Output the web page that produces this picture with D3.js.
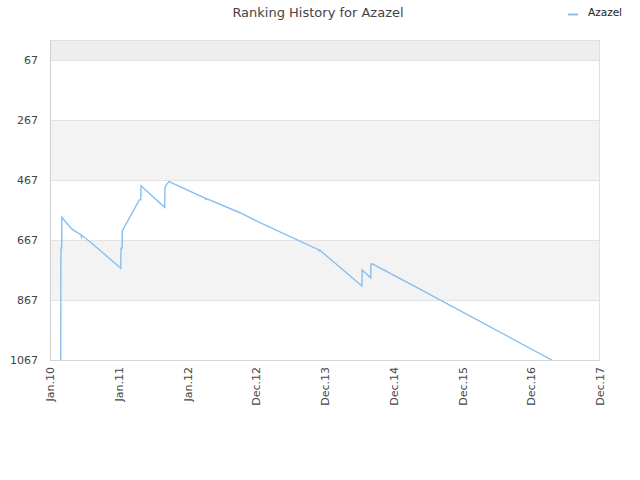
<!DOCTYPE html>
<html><head><meta charset="utf-8">
<script src="https://cdn.jsdelivr.net/npm/d3@7"></script>
<style>body{margin:0;background:#fff}svg{display:block}</style>
</head><body>
<svg id="c" width="640" height="480"></svg>
<script>
const title = "Ranking History for Azazel";
const seriesName = "Azazel";
const dates = ["2010-02-27","2010-02-28","2010-03-04","2010-03-05","2010-04-26","2010-06-15","2010-06-17","2010-06-20","2010-07-31","2011-01-12","2011-01-13","2011-01-19","2011-01-20","2011-04-20","2011-04-28","2011-04-29","2011-09-02","2011-09-03","2011-09-10","2011-09-25","2012-03-28","2012-03-30","2012-04-02","2012-09-13","2012-12-21","2013-10-30","2013-11-01","2013-11-04","2014-06-15","2014-06-16","2014-08-01","2014-08-02","2014-08-11","2015-04-19","2017-03-20"];
const ranks = [1067,694,694,591,630,650,657,652,672,761,694,694,636,533,533,486,558,495,483,472,528,531,529,576,609,700,703,701,820,767,793,747,747,831,1067];
const tickDates = ["2010-01-01","2011-01-01","2012-01-01","2012-12-01","2013-12-01","2014-12-01","2015-12-01","2016-12-01","2017-12-01"];
const tickLabels = ["Jan.10","Jan.11","Jan.12","Dec.12","Dec.13","Dec.14","Dec.15","Dec.16","Dec.17"];
const yTicks = [67,267,467,667,867,1067];
const bands = [[0,67],[267,467],[667,867]];

const parse = d3.timeParse("%Y-%m-%d");
const L = 50, R = 600, T = 40, B = 360;
const svg = d3.select("#c");
const tickD = tickDates.map(parse);
const x = d3.scaleTime().domain(tickD)
  .range(tickD.map((d,i)=> L + i*(R-L)/(tickD.length-1)));
const y = d3.scaleLinear().domain([0,1067]).range([T,B]);

svg.selectAll("rect.band").data(bands).join("rect")
  .attr("x",L).attr("width",R-L)
  .attr("y",d=>y(d[0])).attr("height",d=>y(d[1])-y(d[0]))
  .attr("fill",(d,i)=> i===0 ? "#eeeeee" : "#f3f3f3");
svg.selectAll("line.grid").data(yTicks).join("line")
  .attr("x1",L).attr("x2",R).attr("y1",d=>Math.round(y(d))+0.5).attr("y2",d=>Math.round(y(d))+0.5)
  .attr("stroke","#e2e2e2");
svg.append("rect").attr("x",L+0.5).attr("y",T+0.5).attr("width",R-L-1).attr("height",B-T)
  .attr("fill","none").attr("stroke","#e0e0e0");
svg.append("line").attr("x1",L+0.5).attr("x2",L+0.5).attr("y1",T).attr("y2",B+1).attr("stroke","#cfcfcf");
svg.append("line").attr("x1",L).attr("x2",R).attr("y1",B+0.5).attr("y2",B+0.5).attr("stroke","#d6d6d6");

svg.selectAll("text.yl").data(yTicks).join("text")
  .attr("x",38).attr("y",d=>y(d)+4).attr("text-anchor","end")
  .attr("font-family","DejaVu Sans").attr("font-size",11).attr("fill","#444")
  .text(d=>d);

svg.selectAll("text.xl").data(tickD).join("text")
  .attr("transform",(d)=>`translate(${x(d)+4},367) rotate(-90)`)
  .attr("text-anchor","end")
  .attr("font-family","DejaVu Sans").attr("font-size",11).attr("fill","#444")
  .text((d,i)=>tickLabels[i]);

svg.append("clipPath").attr("id","clip").append("rect")
  .attr("x",L).attr("y",T).attr("width",R-L).attr("height",B-T);
const data = dates.map((d,i)=>({d:parse(d), r:ranks[i]}));
svg.append("path").datum(data)
  .attr("clip-path","url(#clip)")
  .attr("fill","none").attr("stroke","#88bff0").attr("stroke-width",1.4)
  .attr("d", d3.line().x(d=>x(d.d)).y(d=>y(d.r)));

svg.append("text").attr("x",318).attr("y",17).attr("text-anchor","middle")
  .attr("font-family","DejaVu Sans").attr("font-size",13).attr("fill","#444")
  .text(title);
svg.append("line").attr("x1",568).attr("x2",578).attr("y1",14.5).attr("y2",14.5)
  .attr("stroke","#88bff0").attr("stroke-width",2);
svg.append("text").attr("x",588).attr("y",16).attr("font-family","DejaVu Sans")
  .attr("font-size",10.5).attr("fill","#222").text(seriesName);
</script>
</body></html>
